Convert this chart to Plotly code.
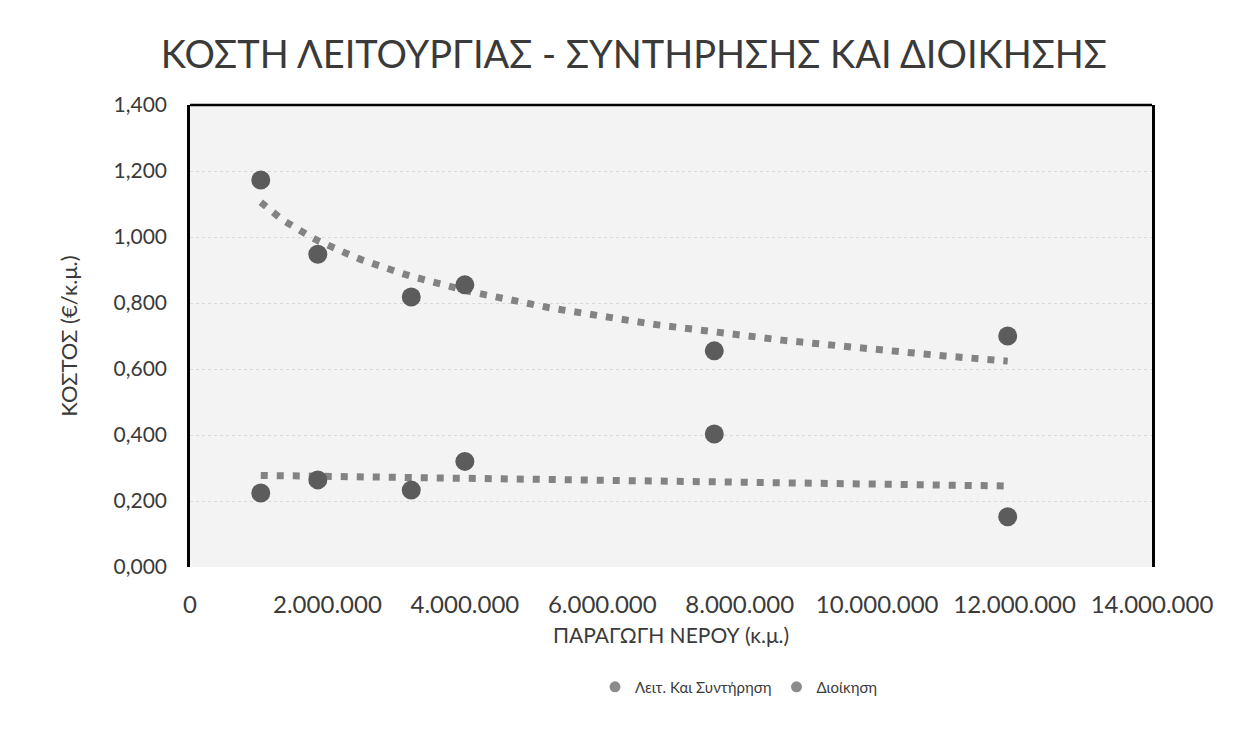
import numpy as np
import plotly.graph_objects as go

# ---- data ----
production = [1030000, 1860000, 3220000, 4000000, 7630000, 11900000]   # ΠΑΡΑΓΩΓΗ ΝΕΡΟΥ (κ.μ.)
cost_operation = [1.173, 0.948, 0.818, 0.855, 0.655, 0.700]          # Λειτ. Και Συντήρηση
cost_admin = [0.224, 0.264, 0.233, 0.320, 0.403, 0.152]              # Διοίκηση

series_names = ["Λειτ. Και Συντήρηση", "Διοίκηση"]
title_text = "ΚΟΣΤΗ ΛΕΙΤΟΥΡΓΙΑΣ - ΣΥΝΤΗΡΗΣΗΣ ΚΑΙ ΔΙΟΙΚΗΣΗΣ"
x_title = "ΠΑΡΑΓΩΓΗ ΝΕΡΟΥ (κ.μ.)"
y_title = "ΚΟΣΤΟΣ (€/κ.μ.)"
x_ticks = [0, 2000000, 4000000, 6000000, 8000000, 10000000, 12000000, 14000000]

x = np.array(production, dtype=float)
# Trendlines (as in the original spreadsheet chart): logarithmic fit for the
# operation series, linear fit for the administration series.
b_log, a_log = np.polyfit(np.log(x), np.array(cost_operation), 1)
b_lin, a_lin = np.polyfit(x, np.array(cost_admin), 1)
xt = np.linspace(x.min(), x.max(), 120)
trend_op = a_log + b_log * np.log(xt)
trend_ad = a_lin + b_lin * xt

FONT = "Lato"
TXT = "#3a3a3a"
MARK = "#5c5c5c"
TREND = "#838383"
LEG = "#8c8c8c"

fig = go.Figure()
fig.add_trace(go.Scatter(x=xt, y=trend_op, mode="lines", showlegend=False,
                         line=dict(color=TREND, width=7, dash="7px,9px"), hoverinfo="skip"))
fig.add_trace(go.Scatter(x=xt, y=trend_ad, mode="lines", showlegend=False,
                         line=dict(color=TREND, width=7, dash="7px,9px"), hoverinfo="skip"))
fig.add_trace(go.Scatter(x=production, y=cost_operation, mode="markers", name=series_names[0],
                         showlegend=False, marker=dict(size=19, color=MARK)))
fig.add_trace(go.Scatter(x=production, y=cost_admin, mode="markers", name=series_names[1],
                         showlegend=False, marker=dict(size=19, color=MARK)))
# legend entries
for nm in series_names:
    fig.add_trace(go.Scatter(x=[None], y=[None], mode="markers", name=nm,
                             marker=dict(size=11, color=LEG)))

fig.add_shape(type="line", xref="paper", yref="paper", x0=0, x1=1, y0=1, y1=1,
              line=dict(color="black", width=2.5))

W, H = 1237, 729
fig.update_layout(
    width=W, height=H,
    separators=",.",
    paper_bgcolor="white",
    plot_bgcolor="#f3f3f3",
    margin=dict(l=182, r=93, t=97, b=170),
    font=dict(family=FONT, color=TXT, size=18),
    title=dict(text=title_text, x=0.506, xanchor="center", y=1 - 47 / H, yanchor="middle",
               font=dict(family=FONT, size=38, color=TXT)),
    xaxis=dict(range=[0, 14000000], tickvals=x_ticks,
               tickformat=",d", showgrid=False, zeroline=False, showline=False,
               ticks="outside", ticklen=16, tickcolor="rgba(0,0,0,0)",
               tickfont=dict(size=24, color=TXT),
               title=dict(text=x_title, font=dict(size=21, color=TXT), standoff=11)),
    yaxis=dict(range=[0, 1.4], dtick=0.2, tickformat=".3f",
               showgrid=True, gridcolor="#d9d9d9", griddash="dot", gridwidth=1,
               zeroline=False, showline=True, mirror=True, linecolor="black", linewidth=2.5,
               ticks="outside", ticklen=16, tickcolor="rgba(0,0,0,0)",
               tickfont=dict(size=21, color=TXT),
               title=dict(text=y_title, font=dict(size=22, color=TXT), standoff=30)),
    legend=dict(orientation="h", x=0.421, xanchor="left", y=-0.26, yanchor="middle",
                font=dict(size=15, color=TXT), itemwidth=30,
                bgcolor="rgba(0,0,0,0)"),
    showlegend=True,
)

fig.write_html("out.html")
